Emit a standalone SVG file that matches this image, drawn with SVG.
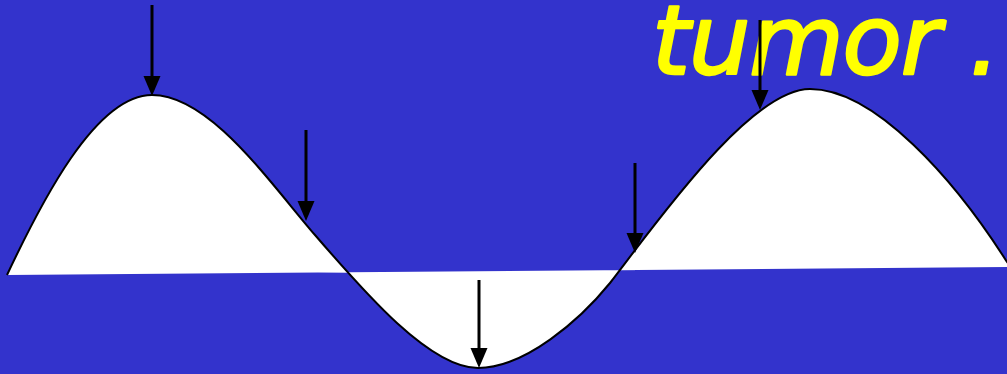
<svg xmlns="http://www.w3.org/2000/svg" width="1007" height="374" viewBox="0 0 1007 374">
  <style>
    .title { font-family: "DejaVu Sans", "Liberation Sans", sans-serif; font-style: italic; font-size: 97px; fill: #FFFF00; stroke: #FFFF00; stroke-width: 2.5; stroke-linejoin: round; }
    .shaft { stroke: #000; stroke-width: 3; fill: none; }
    .head { fill: #000; stroke: none; }
    .wave { stroke: #000; stroke-width: 2; fill: none; }
  </style>
  <rect x="0" y="0" width="1007" height="374" fill="#3333CC"/>
  <g id="title"><text class="title" x="652" y="74" textLength="348" lengthAdjust="spacing">tumor .</text></g>
  <g id="wave">
    <path d="M7,275 C40,205 95,95 152,95 C210,95 270,183 315,235 C365,293 430,368 478,368 C525,368 580,320 610,283 C655,225 750,89 810,89 C875,89 955,180 1007,262 L1010,266 L1010,267 L7,275 Z" fill="#FFFFFF" stroke="none"/>
    <path class="wave" d="M7,275 C40,205 95,95 152,95 C210,95 270,183 315,235 C365,293 430,368 478,368 C525,368 580,320 610,283 C655,225 750,89 810,89 C875,89 955,180 1007,262 L1012,268"/>
  </g>
  <g id="connectors">
    <g id="arrow1"><line class="shaft" x1="152" y1="5" x2="152" y2="80"/><path class="head" d="M143.5,76 L160.5,76 L152,96 Z"/></g>
    <g id="arrow2"><line class="shaft" x1="306" y1="130" x2="306" y2="205"/><path class="head" d="M297.5,201 L314.5,201 L306,221 Z"/></g>
    <g id="arrow3"><line class="shaft" x1="479" y1="280" x2="479" y2="352"/><path class="head" d="M470.5,348 L487.5,348 L479,368 Z"/></g>
    <g id="arrow4"><line class="shaft" x1="635" y1="163" x2="635" y2="237"/><path class="head" d="M626.5,233 L643.5,233 L635,253 Z"/></g>
    <g id="arrow5"><line class="shaft" x1="760" y1="20" x2="760" y2="94"/><path class="head" d="M751.5,90 L768.5,90 L760,110 Z"/></g>
  </g>
</svg>
